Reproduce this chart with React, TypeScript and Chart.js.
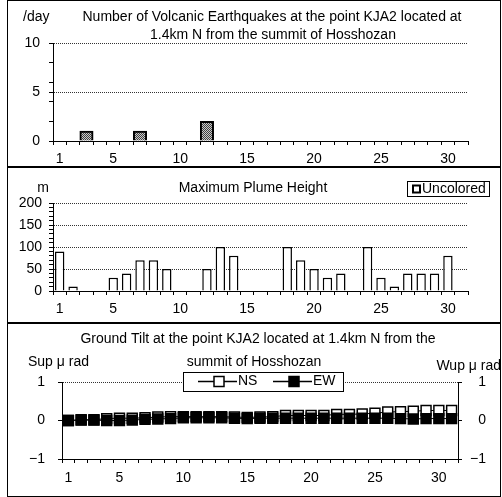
import React, { useEffect, useRef } from 'react';
import { Chart, registerables } from 'chart.js';

Chart.register(...registerables);

const FONT = "'Liberation Sans', Arial, sans-serif";
const FS = 14;

// ---------- data ----------
const days = ['1','2','3','4','5','6','7','8','9','10','11','12','13','14','15','16','17','18','19','20','21','22','23','24','25','26','27','28','29','30','31'];
const shownDays = ['1','5','10','15','20','25','30'];

const quakeCounts = [0,0,1,0,0,0,1,0,0,0,0,2,0,0,0,0,0,0,0,0,0,0,0,0,0,0,0,0,0,0,0];
const quakeTickMarks = [0,2,4,5,6,8,10];
const quakeTickLabels = [0,5,10];
const quakeGridLines = [5,10];

const plumeHeights = [90,10,null,null,30,40,70,70,50,null,null,50,100,80,null,null,null,100,70,50,30,40,null,100,30,10,40,40,40,80,null];
const plumeTickMarks = [0,10,20,30,40,50,60,70,80,90,100,110,120,130,140,150,160,170,180,190,200];
const plumeTickLabels = [0,50,100,150,200];
const plumeGridLines = [50,100,150,200];

const tiltNS = [0,0.02,0.02,0.05,0.06,0.06,0.07,0.09,0.1,0.1,0.1,0.1,0.1,0.09,0.08,0.09,0.1,0.13,0.13,0.13,0.13,0.16,0.16,0.17,0.19,0.22,0.23,0.24,0.26,0.26,0.26];
const tiltEW = [0,0.01,0.01,0,0,0.01,0.03,0.04,0.05,0.07,0.07,0.07,0.07,0.06,0.05,0.06,0.06,0.06,0.06,0.06,0.06,0.06,0.06,0.06,0.06,0.06,0.05,0.04,0.05,0.05,0.05];
const tiltTickMarks = [-1,0,1];
const tiltGridLines = [1];

// ---------- helpers ----------
type TextItem = { text: string; x: number; y: number; align?: CanvasTextAlign };

const textPlugin = {
  id: 'panelText',
  afterDraw(chart: any, _args: any, opts: any) {
    const ctx = chart.ctx as CanvasRenderingContext2D;
    (opts.items || []).forEach((it: TextItem) => {
      ctx.save();
      ctx.font = `${FS}px ${FONT}`;
      ctx.fillStyle = '#000';
      ctx.textAlign = it.align || 'center';
      ctx.textBaseline = 'middle';
      ctx.fillText(it.text, it.x, it.y);
      ctx.restore();
    });
  },
};

function makePattern(): CanvasPattern | string {
  const pc = document.createElement('canvas');
  pc.width = 2;
  pc.height = 2;
  const p = pc.getContext('2d');
  if (!p) return '#888';
  p.fillStyle = '#c8c8c8';
  p.fillRect(0, 0, 2, 2);
  p.fillStyle = '#404040';
  p.fillRect(0, 0, 1, 1);
  p.fillRect(1, 1, 1, 1);
  const ctx = document.createElement('canvas').getContext('2d');
  return (ctx && ctx.createPattern(pc, 'repeat')) || '#888';
}

const dayAxis = (height: number, pad: number) => ({
  type: 'category' as const,
  offset: true,
  grid: { display: true, offset: true, drawOnChartArea: false, drawTicks: true, tickLength: 4, tickColor: '#000', color: '#000' },
  border: { display: true, color: '#000', width: 1 },
  ticks: {
    autoSkip: false,
    maxRotation: 0,
    minRotation: 0,
    padding: pad,
    color: '#000',
    font: { family: FONT, size: FS },
    callback: (_v: any, i: number) => (shownDays.includes(days[i]) ? days[i] : ''),
  },
  afterFit: (s: any) => { s.height = height; },
});

const valueAxis = (opts: {
  min: number; max: number; marks: number[]; labels: number[]; grid: number[];
  width: number; pad: number; position?: 'left' | 'right'; onArea?: boolean;
}) => ({
  type: 'linear' as const,
  position: opts.position || 'left',
  min: opts.min,
  max: opts.max,
  afterBuildTicks: (s: any) => { s.ticks = opts.marks.map((v) => ({ value: v })); },
  grid: {
    display: true,
    drawOnChartArea: opts.onArea !== false,
    drawTicks: true,
    tickLength: 4,
    tickColor: '#000',
    color: (c: any) => (c.tick && opts.grid.includes(c.tick.value) ? '#333' : 'rgba(0,0,0,0)'),
    lineWidth: 1,
  },
  border: { display: true, color: '#000', width: 1, dash: [1, 1] },
  ticks: {
    autoSkip: false,
    padding: opts.pad,
    color: '#000',
    crossAlign: opts.position === 'right' ? ('far' as const) : ('near' as const),
    font: { family: FONT, size: FS },
    callback: (v: any) => (opts.labels.includes(v) ? (v < 0 ? '\u2212' + Math.abs(v) : String(v)) : ''),
  },
  afterFit: (s: any) => { s.width = opts.width; },
});

// ---------- panels ----------
function usePanel(ref: React.RefObject<HTMLCanvasElement | null>, build: () => any) {
  useEffect(() => {
    if (!ref.current) return;
    const chart = new Chart(ref.current, build());
    return () => chart.destroy();
  }, []);
}

const P1 = { top: 0, h: 166 };
const P2 = { top: 167, h: 155 };
const P3 = { top: 323, h: 174 };

export default function App() {
  const c1 = useRef<HTMLCanvasElement>(null);
  const c2 = useRef<HTMLCanvasElement>(null);
  const c3 = useRef<HTMLCanvasElement>(null);

  usePanel(c1, () => ({
    type: 'bar',
    data: {
      labels: days,
      datasets: [{
        data: quakeCounts,
        backgroundColor: makePattern(),
        borderColor: '#000',
        borderWidth: 2,
        barPercentage: 1,
        categoryPercentage: 1,
      }],
    },
    options: {
      responsive: false,
      animation: false,
      devicePixelRatio: 1,
      layout: { padding: { top: 43 - P1.top, left: 0, right: 34, bottom: 0 } },
      plugins: {
        legend: { display: false },
        tooltip: { enabled: false },
        panelText: {
          items: [
            { text: '/day', x: 23, y: 17, align: 'left' },
            { text: 'Number of Volcanic Earthquakes at the point KJA2 located at', x: 272, y: 17 },
            { text: '1.4km N from the summit of Hosshozan', x: 273, y: 35 },
          ],
        },
      },
      scales: {
        x: dayAxis(P1.top + P1.h - 141, 6),
        y: valueAxis({ min: 0, max: 10, marks: quakeTickMarks, labels: quakeTickLabels, grid: quakeGridLines, width: 53, pad: 9 }),
      },
    },
    plugins: [textPlugin],
  }));

  usePanel(c2, () => ({
    type: 'bar',
    data: {
      labels: days,
      datasets: [{
        label: 'Uncolored',
        data: plumeHeights,
        backgroundColor: '#fff',
        borderColor: '#000',
        borderWidth: 1.5,
        barPercentage: 0.7,
        categoryPercentage: 1,
      }],
    },
    options: {
      responsive: false,
      animation: false,
      devicePixelRatio: 1,
      layout: { padding: { top: 203 - P2.top, left: 0, right: 34, bottom: 0 } },
      plugins: {
        legend: { display: false },
        tooltip: { enabled: false },
        panelText: {
          items: [
            { text: 'm', x: 43, y: 188 - P2.top },
            { text: 'Maximum Plume Height', x: 253, y: 188 - P2.top },
            { text: 'Uncolored', x: 422, y: 189 - P2.top, align: 'left' },
          ],
        },
      },
      scales: {
        x: dayAxis(P2.top + P2.h - 291, 6),
        y: valueAxis({ min: 0, max: 200, marks: plumeTickMarks, labels: plumeTickLabels, grid: plumeGridLines, width: 53, pad: 7 }),
      },
    },
    plugins: [
      textPlugin,
      {
        id: 'plumeLegend',
        afterDraw(chart: any) {
          const ctx = chart.ctx as CanvasRenderingContext2D;
          const y0 = 181 - P2.top;
          ctx.save();
          ctx.fillStyle = '#fff';
          ctx.strokeStyle = '#000';
          ctx.lineWidth = 1;
          ctx.strokeRect(407.5, y0 + 0.5, 82, 15);
          ctx.lineWidth = 2;
          ctx.fillRect(413, y0 + 4.5, 7, 7);
          ctx.strokeRect(413, y0 + 4.5, 7, 7);
          ctx.restore();
        },
      },
    ],
  }));

  usePanel(c3, () => ({
    type: 'line',
    data: {
      labels: days,
      datasets: [
        {
          label: 'NS',
          data: tiltNS,
          order: 2,
          borderColor: '#000',
          borderWidth: 1,
          pointStyle: 'rect',
          pointRadius: 7,
          pointBorderWidth: 1.5,
          pointBackgroundColor: '#fff',
          pointBorderColor: '#000',
          yAxisID: 'y',
        },
        {
          label: 'EW',
          data: tiltEW,
          order: 1,
          borderColor: '#000',
          borderWidth: 1,
          pointStyle: 'rect',
          pointRadius: 7,
          pointBorderWidth: 1.5,
          pointBackgroundColor: '#000',
          pointBorderColor: '#000',
          yAxisID: 'y',
        },
      ],
    },
    options: {
      responsive: false,
      animation: false,
      devicePixelRatio: 1,
      layout: { padding: { top: 382 - P3.top, left: 0, right: 16, bottom: 0 } },
      plugins: {
        legend: { display: false },
        tooltip: { enabled: false },
        panelText: {
          items: [
            { text: 'Ground Tilt at the point KJA2 located at 1.4km N from the', x: 258, y: 339 - P3.top },
            { text: 'summit of Hosshozan', x: 254, y: 362 - P3.top },
            { text: 'Sup \u03bc rad', x: 28, y: 362 - P3.top, align: 'left' },
            { text: 'Wup \u03bc rad', x: 501, y: 366 - P3.top, align: 'right' },
          ],
        },
      },
      scales: {
        x: dayAxis(P3.top + P3.h - 459, 6.5),
        y: valueAxis({ min: -1, max: 1, marks: tiltTickMarks, labels: tiltTickMarks, grid: tiltGridLines, width: 62, pad: 13 }),
        y2: valueAxis({ min: -1, max: 1, marks: tiltTickMarks, labels: tiltTickMarks, grid: [], width: 28, pad: 10, position: 'right', onArea: false }),
      },
    },
    plugins: [
      textPlugin,
      {
        id: 'tiltLegend',
        afterDraw(chart: any) {
          const ctx = chart.ctx as CanvasRenderingContext2D;
          const top = 372 - P3.top;
          const cy = top + 9.5;
          ctx.save();
          ctx.fillStyle = '#fff';
          ctx.fillRect(183, top, 160, 19);
          ctx.strokeStyle = '#000';
          ctx.lineWidth = 1;
          ctx.strokeRect(183.5, top + 0.5, 160, 19);
          const item = (x0: number, fill: string, label: string) => {
            ctx.lineWidth = 1.5;
            ctx.beginPath();
            ctx.moveTo(x0, cy);
            ctx.lineTo(x0 + 39, cy);
            ctx.stroke();
            ctx.fillStyle = fill;
            ctx.fillRect(x0 + 16, cy - 5, 10, 10);
            ctx.strokeRect(x0 + 16, cy - 5, 10, 10);
            ctx.fillStyle = '#000';
            ctx.font = `${FS}px ${FONT}`;
            ctx.textAlign = 'left';
            ctx.textBaseline = 'middle';
            ctx.fillText(label, x0 + 40, cy);
          };
          item(198, '#fff', 'NS');
          item(273, '#000', 'EW');
          ctx.restore();
        },
      },
    ],
  }));

  const line = (style: React.CSSProperties): React.CSSProperties => ({ position: 'absolute', background: '#000', ...style });

  return (
    <div style={{ position: 'fixed', left: 0, top: 0, width: 502, height: 497, background: '#fff', overflow: 'hidden' }}>
      <div style={line({ left: 7, top: 0, width: 1, height: 497 })} />
      <div style={line({ left: 500, top: 0, width: 1, height: 497 })} />
      <div style={line({ left: 7, top: 0, width: 494, height: 1 })} />
      <div style={line({ left: 7, top: 166, width: 494, height: 2 })} />
      <div style={line({ left: 7, top: 322, width: 494, height: 2 })} />
      <div style={line({ left: 7, top: 496, width: 494, height: 1 })} />
      <canvas ref={c1} width={502} height={P1.h} style={{ position: 'absolute', left: 0, top: P1.top, width: 502, height: P1.h }} />
      <canvas ref={c2} width={502} height={P2.h} style={{ position: 'absolute', left: 0, top: P2.top, width: 502, height: P2.h }} />
      <canvas ref={c3} width={502} height={P3.h} style={{ position: 'absolute', left: 0, top: P3.top, width: 502, height: P3.h }} />
    </div>
  );
}
